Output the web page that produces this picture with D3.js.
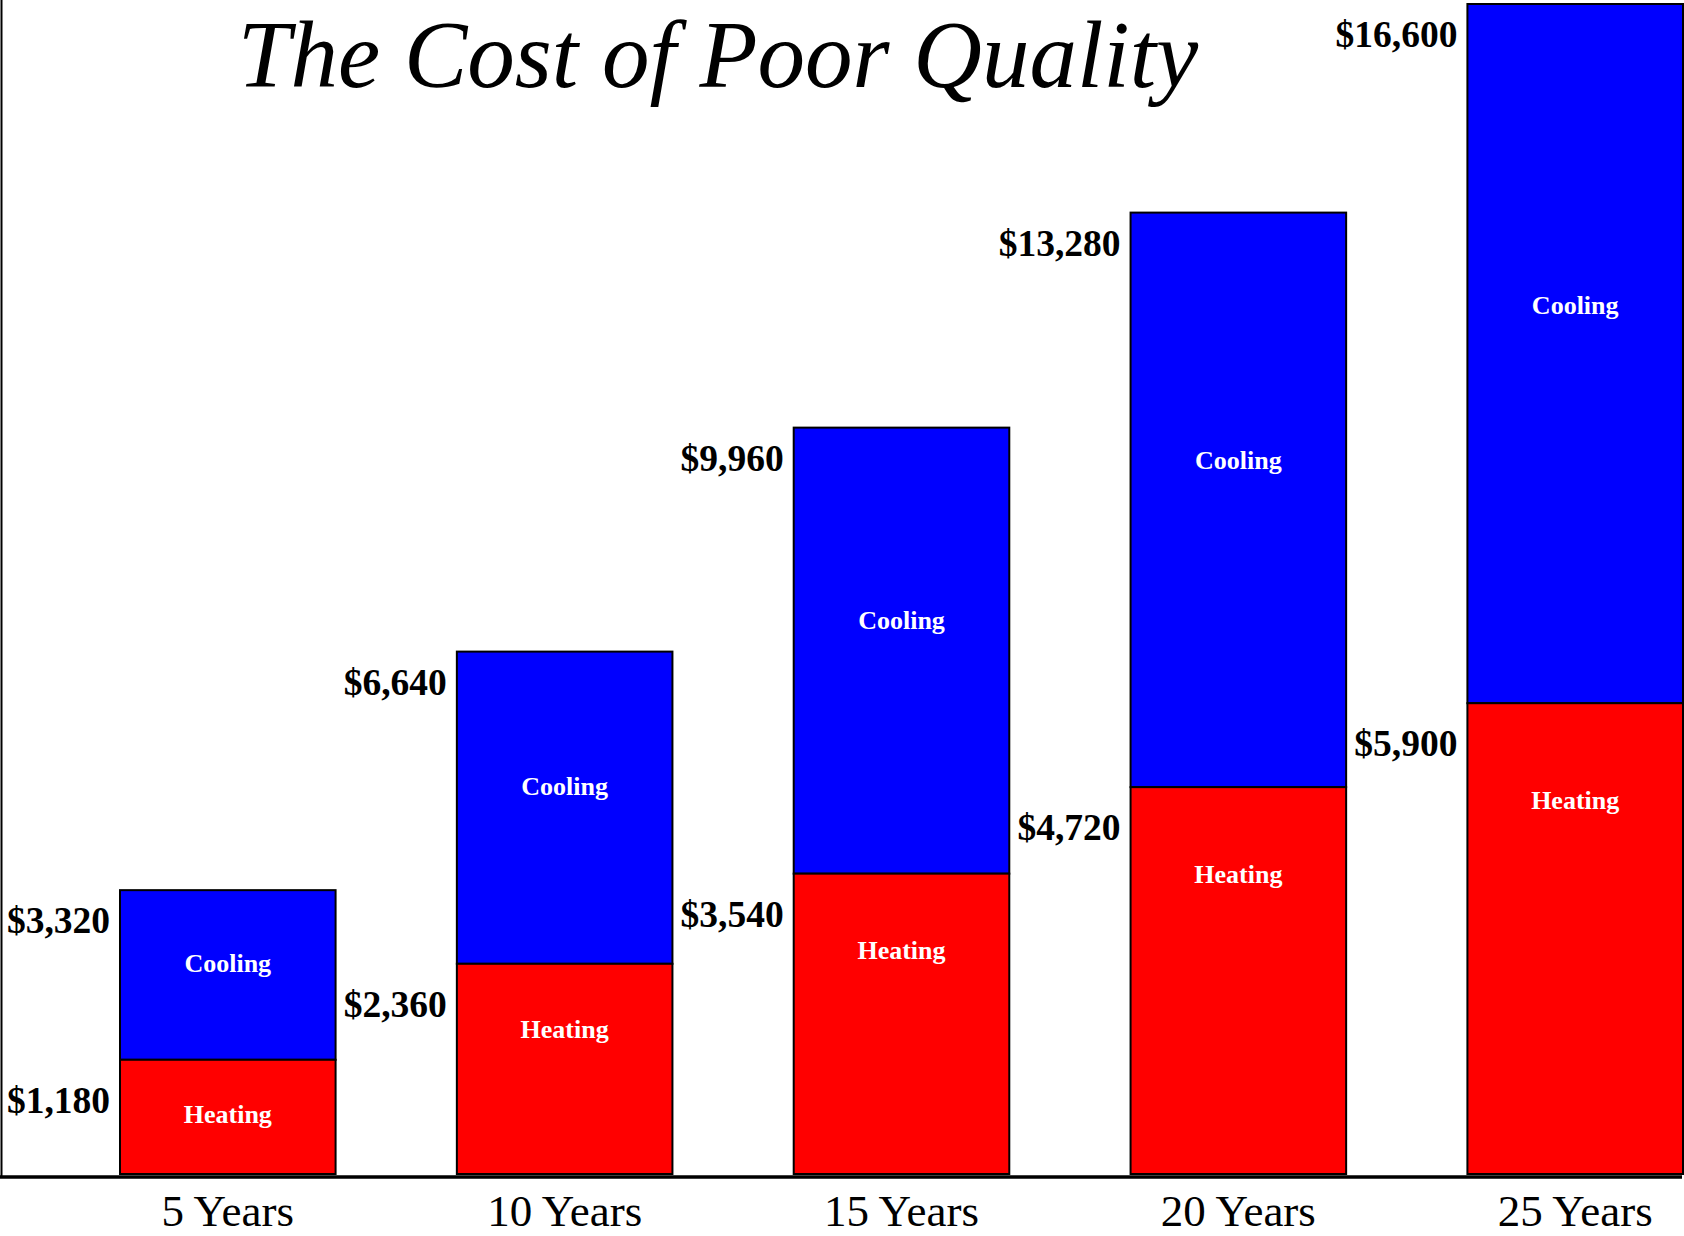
<!DOCTYPE html>
<html>
<head>
<meta charset="utf-8">
<title>The Cost of Poor Quality</title>
<script src="https://cdn.jsdelivr.net/npm/d3@7"></script>
<style>
	html, body { margin: 0; padding: 0; background: #fff; }
	svg { display: block; font-family: "Liberation Serif", "Times New Roman", serif; }
</style>
</head>
<body>
<div id="chart"></div>
<script>
// Chart data
const periods = ["5 Years", "10 Years", "15 Years", "20 Years", "25 Years"];
const heatingCost = [1180, 2360, 3540, 4720, 5900];
const totalCost = [3320, 6640, 9960, 13280, 16600];
const segmentNames = ["Heating", "Cooling"];

(function (d3) {
	"use strict";

	const width = 1684, height = 1236;
	const baseline = 1174;

	const svg = d3.select("#chart")
		.append("svg")
		.attr("width", width)
		.attr("height", height);

	// scales (the original drawing is not quite linear, a pow scale fits it better)
	const x = d3.scaleBand()
		.domain(periods)
		.range([120, 1683])
		.paddingInner(0.36)
		.paddingOuter(0);
	const y = d3.scalePow()
		.exponent(0.88)
		.domain([0, d3.max(totalCost)])
		.range([baseline, 4]);

	const fmt = v => "$" + d3.format(",")(v);

	const data = periods.map((p, i) => ({
		period: p,
		heating: heatingCost[i],
		total: totalCost[i]
	}));

	// left frame line
	svg.append("line")
		.attr("x1", 1.5).attr("x2", 1.5)
		.attr("y1", 0).attr("y2", baseline + 4)
		.attr("stroke", "#000")
		.attr("stroke-width", 2);

	// title
	svg.append("text")
		.attr("x", 718)
		.attr("y", 87)
		.attr("text-anchor", "middle")
		.attr("font-style", "italic")
		.attr("font-size", 95)
		.attr("fill", "#000")
		.text("The Cost of Poor Quality");

	const groups = svg.selectAll(".bar")
		.data(data)
		.enter().append("g")
		.attr("class", "bar");

	// cooling (upper) segment
	groups.append("rect")
		.attr("x", d => x(d.period))
		.attr("y", d => y(d.total))
		.attr("width", x.bandwidth())
		.attr("height", d => y(d.heating) - y(d.total))
		.attr("fill", "#0000ff")
		.attr("stroke", "#000")
		.attr("stroke-width", 2);

	// heating (lower) segment
	groups.append("rect")
		.attr("x", d => x(d.period))
		.attr("y", d => y(d.heating))
		.attr("width", x.bandwidth())
		.attr("height", d => y(0) - y(d.heating))
		.attr("fill", "#ff0000")
		.attr("stroke", "#000")
		.attr("stroke-width", 2);

	// segment names inside the bars
	groups.append("text")
		.attr("x", d => x(d.period) + x.bandwidth() / 2)
		.attr("y", d => y(d.total) + 0.43 * (y(d.heating) - y(d.total)))
		.attr("dy", "0.35em")
		.attr("text-anchor", "middle")
		.attr("font-weight", "bold")
		.attr("font-size", 26)
		.attr("fill", "#fff")
		.text(segmentNames[1]);

	groups.append("text")
		.attr("x", d => x(d.period) + x.bandwidth() / 2)
		.attr("y", d => y(d.heating) + 40 + 0.12 * (y(0) - y(d.heating)))
		.attr("dy", "0.35em")
		.attr("text-anchor", "middle")
		.attr("font-weight", "bold")
		.attr("font-size", 26)
		.attr("fill", "#fff")
		.text(segmentNames[0]);

	// dollar labels left of the bars
	groups.append("text")
		.attr("x", d => x(d.period) - 10)
		.attr("y", d => y(d.total) + 30)
		.attr("dy", "0.35em")
		.attr("text-anchor", "end")
		.attr("font-weight", "bold")
		.attr("font-size", 37.5)
		.attr("fill", "#000")
		.text(d => fmt(d.total));

	groups.append("text")
		.attr("x", d => x(d.period) - 10)
		.attr("y", d => y(d.heating) + 40)
		.attr("dy", "0.35em")
		.attr("text-anchor", "end")
		.attr("font-weight", "bold")
		.attr("font-size", 37.5)
		.attr("fill", "#000")
		.text(d => fmt(d.heating));

	// x axis
	const xAxis = d3.axisBottom(x).tickSize(0).tickPadding(17);
	const axisG = svg.append("g")
		.attr("transform", "translate(0," + (baseline + 3) + ")")
		.call(xAxis);
	axisG.select(".domain")
		.attr("d", "M0,0H" + (width - 2))
		.attr("stroke", "#000")
		.attr("stroke-width", 3.5);
	axisG.selectAll(".tick text")
		.attr("font-family", "Liberation Serif, Times New Roman, serif")
		.attr("font-size", 45)
		.attr("fill", "#000");

})(d3);
</script>
</body>
</html>
